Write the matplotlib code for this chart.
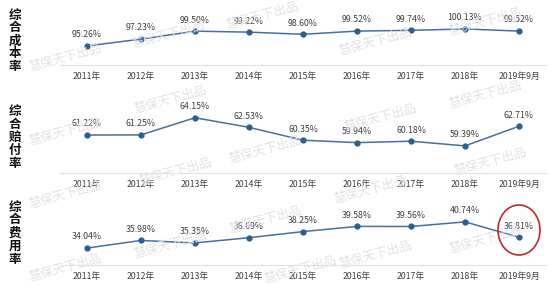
import matplotlib
matplotlib.use("Agg")
import matplotlib.pyplot as plt
from matplotlib.patches import Ellipse

plt.rcParams['font.family'] = ['Noto Sans CJK SC', 'DejaVu Sans']

# 数据
years = ['2011年', '2012年', '2013年', '2014年', '2015年',
         '2016年', '2017年', '2018年', '2019年9月']
cost_ratio = [95.26, 97.23, 99.50, 99.22, 98.60, 99.52, 99.74, 100.13, 99.52]
loss_ratio = [61.22, 61.25, 64.15, 62.53, 60.35, 59.94, 60.18, 59.39, 62.71]
expense_ratio = [34.04, 35.98, 35.35, 36.69, 38.25, 39.58, 39.56, 40.74, 36.81]
row_titles = ['综合成本率', '综合赔付率', '综合费用率']

W, H = 550, 287
fig = plt.figure(figsize=(W / 100, H / 100), dpi=100)
fig.patch.set_facecolor('white')

def px_rect(left, top, right, bottom):
    return [left / W, 1 - bottom / H, (right - left) / W, (bottom - top) / H]

# 水印 (先画, 放在底层)
watermarks = [
    (65, 58), (168, 35), (262, 16), (375, 42), (485, 22),
    (65, 132), (170, 100), (265, 150), (380, 118), (485, 95),
    (65, 195), (175, 172), (265, 220), (370, 190), (490, 162),
    (65, 268), (170, 245), (375, 255), (485, 240), (300, 270),
]
for wx, wy in watermarks:
    fig.text(wx / W, 1 - wy / H, '慧保天下出品', ha='center', va='center',
             fontsize=9, color='#e2e2e2', rotation=15, zorder=0)

# 每个面板: (上, 下, ylim, 标签中心y)
panels = [
    (5, 65, (89.8, 107.0), 41),
    (95, 173, (54.8, 68.0), 137),
    (190, 265, (29.7, 48.9), 233),
]
series = [cost_ratio, loss_ratio, expense_ratio]

line_color = '#46709e'
marker_color = '#2b5f8e'

for (top, bottom, ylim, label_y), values, title in zip(panels, series, row_titles):
    ax = fig.add_axes(px_rect(60, top, 546, bottom))
    x = range(len(years))
    ax.plot(x, values, color=line_color, lw=1.1, marker='o', ms=3.5,
            mfc=marker_color, mec=marker_color, zorder=3)
    for xi, v in zip(x, values):
        ax.annotate(f'{v:.2f}%', (xi, v), xytext=(0, 8), textcoords='offset points',
                    ha='center', va='center', fontsize=6.3, color='#3f3f3f')
    ax.set_xlim(-0.5, len(years) - 0.5)
    ax.set_ylim(*ylim)
    ax.set_xticks(list(x))
    ax.set_xticklabels(years, fontsize=6.3, color='#3f3f3f')
    ax.tick_params(axis='x', length=0, pad=5)
    ax.set_yticks([])
    for s in ['top', 'left', 'right']:
        ax.spines[s].set_visible(False)
    ax.spines['bottom'].set_color('#e0e0e0')
    ax.spines['bottom'].set_linewidth(0.8)
    ax.patch.set_alpha(0)

    fig.text(15 / W, 1 - label_y / H, '\n'.join(title), ha='center', va='center',
             fontsize=9, fontweight='bold', color='#111111', linespacing=1.0)

# 红色圈
fig.patches.append(Ellipse((519 / W, 1 - 230 / H), 42 / W, 50 / H,
                           transform=fig.transFigure, fill=False,
                           edgecolor='#c0282d', lw=1.2))

fig.savefig('out.png', dpi=100)
